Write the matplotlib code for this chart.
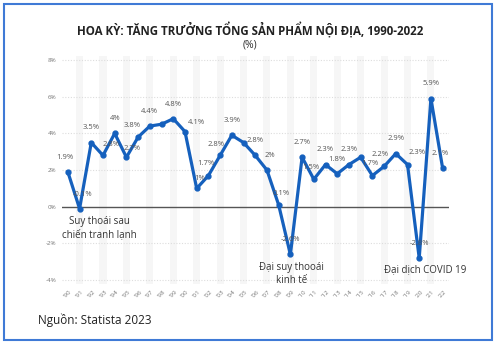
import matplotlib.pyplot as plt
from matplotlib.patches import Rectangle

plt.rcParams['font.family'] = ['Open Sans', 'DejaVu Sans']

# GDP growth data
years = list(range(1990, 2023))
growth = [1.9, -0.1, 3.5, 2.8, 4.0, 2.7, 3.8, 4.4, 4.5, 4.8, 4.1,
          1.0, 1.7, 2.8, 3.9, 3.5, 2.8, 2.0, 0.1, -2.6, 2.7, 1.5,
          2.3, 1.8, 2.3, 2.7, 1.7, 2.2, 2.9, 2.3, -2.8, 5.9, 2.1]
labels = ['1.9%', '-0.1%', '3.5%', '2.8%', '4%', '2.7%', '3.8%', '4.4%', None, '4.8%', '4.1%',
          '1%', '1.7%', '2.8%', '3.9%', None, '2.8%', '2%', '0.1%', '-2.6%', '2.7%', '1.5%',
          '2.3%', '1.8%', '2.3%', None, '1.7%', '2.2%', '2.9%', '2.3%', '-2.8%', '5.9%', '2.1%']
# label offsets in points (dx, dy)
offsets = [(-2, 8), (2, 8), (0, 8), (6, 5), (0, 8), (4, 4), (-4, 6), (0, 8), None, (0, 8), (8, 4),
           (2, 5), (-2, 6), (-3, 5), (0, 8), None, (0, 8), (2, 8), (2, 6), (0, 8), (0, 8), (-2, 6),
           (0, 8), (0, 8), (0, 8), None, (-2, 6), (-3, 6), (0, 8), (7, 6), (0, 8), (0, 8), (-2, 8)]
xticklabels = ["'%02d" % (y % 100) for y in years]

fig = plt.figure(figsize=(5, 3.5), dpi=100)
ax = fig.add_axes([0.124, 0.189, 0.773, 0.65])

# alternating column bands
for y in years:
    if y % 2 == 1:
        ax.axvspan(y - 0.3, y + 0.3, color='#f6f6f6', zorder=0, lw=0)

ax.set_xlim(1989.5, 2022.5)
ax.set_ylim(-4.2, 8.2)
ax.set_yticks([-4, -2, 0, 2, 4, 6, 8])
ax.set_yticklabels(['-4%', '-2%', '0%', '2%', '4%', '6%', '8%'], fontsize=4.5, color='#777777')
ax.set_xticks(years)
ax.set_xticklabels(xticklabels, rotation=45, fontsize=4.5, color='#777777')
ax.tick_params(length=0, pad=4)
for s in ax.spines.values():
    s.set_visible(False)
for v in [-4, -2, 2, 4, 6, 8]:
    ax.axhline(v, color='#dddddd', lw=0.8, ls=(0, (1, 1.5)), zorder=1)
ax.axhline(0, color='#555555', lw=1.0, zorder=2)

ax.plot(years, growth, color='#1560bd', lw=2.3, marker='o', ms=3.5, zorder=3)

for y, v, lab, off in zip(years, growth, labels, offsets):
    if lab is None:
        continue
    ax.annotate(lab, (y, v), xytext=off, textcoords='offset points',
                ha='center', va='bottom', fontsize=5.5, color='#555555', zorder=4)

ax.text(1992.7, -0.5, 'Suy thoái sau\nchiến tranh lạnh', ha='center', va='top',
        fontsize=7, color='#333333', linespacing=1.3)
ax.text(2009.1, -3.0, 'Đại suy thooái\nkinh tế', ha='center', va='top',
        fontsize=7, color='#333333', linespacing=1.3)
ax.text(2020.5, -3.1, 'Đại dịch COVID 19', ha='center', va='top',
        fontsize=7, color='#333333')

fig.text(0.5, 1 - 30 / 350, 'HOA KỲ: TĂNG TRƯỞNG TỔNG SẢN PHẨM NỘI ĐỊA, 1990-2022',
         ha='center', va='center', fontsize=8.3, fontweight='bold', color='#222222')
fig.text(0.5, 1 - 45 / 350, '(%)', ha='center', va='center', fontsize=7.5, color='#333333')
fig.text(38 / 500, 1 - 320 / 350, 'Nguồn: Statista 2023', ha='left', va='center',
         fontsize=8.5, color='#222222')

fig.patches.append(Rectangle((4 / 500, 1 - 340 / 350), 488 / 500, 336 / 350,
                             transform=fig.transFigure, fill=False,
                             edgecolor='#3f7ad6', lw=1.5))

fig.savefig('out.png', dpi=100)
